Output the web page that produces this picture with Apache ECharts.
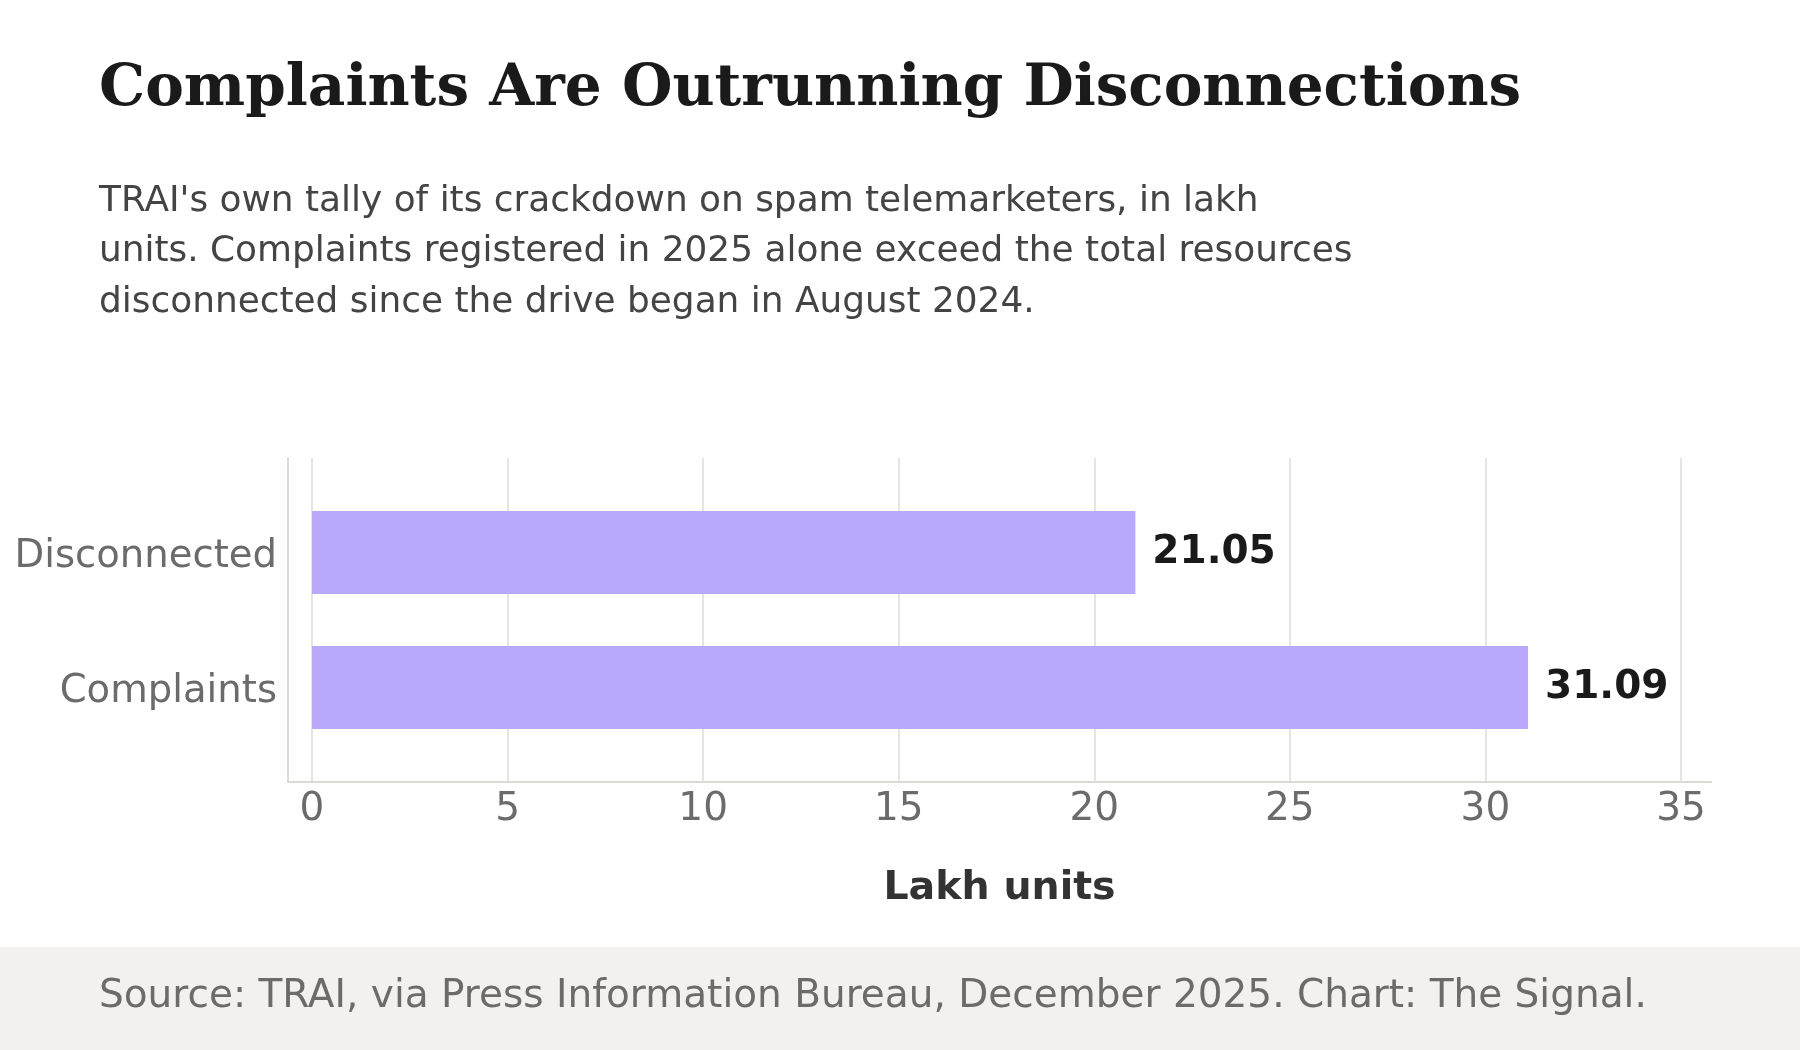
<!DOCTYPE html>
<html>
<head>
<meta charset="utf-8">
<script src="https://cdn.jsdelivr.net/npm/echarts@6/dist/echarts.min.js"></script>
<style>
html,body{margin:0;padding:0;background:#fff;}
#chart{width:1800px;height:1050px;}
</style>
</head>
<body>
<div id="chart"></div>
<script>
const categories = ['Disconnected', 'Complaints'];
const values = [21.05, 31.09];
const xTicks = [0, 5, 10, 15, 20, 25, 30, 35];
const titleText = 'Complaints Are Outrunning Disconnections';
const subtitleText = "TRAI's own tally of its crackdown on spam telemarketers, in lakh\nunits. Complaints registered in 2025 alone exceed the total resources\ndisconnected since the drive began in August 2024.";
const sourceText = 'Source: TRAI, via Press Information Bureau, December 2025. Chart: The Signal.';
const axisTitle = 'Lakh units';

const chart = echarts.init(document.getElementById('chart'), null, {renderer: 'canvas'});
const SANS = 'DejaVu Sans';
const xMin = xTicks[0], xMax = xTicks[xTicks.length - 1], xStep = xTicks[1] - xTicks[0];

chart.setOption({
  backgroundColor: '#ffffff',
  animation: false,
  title: [
    {
      text: titleText, left: 99, top: 61, padding: 0,
      textStyle: {fontFamily: 'DejaVu Serif', fontWeight: 'bold', fontSize: 58, lineHeight: 58, color: '#1a1a1a'}
    },
    {
      text: subtitleText, left: 99, top: 176, padding: 0,
      textStyle: {fontFamily: SANS, fontWeight: 'normal', fontSize: 35.9, lineHeight: 50.5, color: '#444444'}
    }
  ],
  graphic: [
    {type: 'rect', z: -10, shape: {x: 0, y: 947, width: 1800, height: 103}, style: {fill: '#f2f1ef'}},
    {type: 'text', z: 10, x: 99, y: 997, style: {text: sourceText, font: '39px "DejaVu Sans"', fill: '#6b6b6b', textVerticalAlign: 'middle', verticalAlign: 'middle'}}
  ],
  grid: [
    {left: 312, right: 119, top: 458, bottom: 268},
    {left: 312, right: 119, top: 485, bottom: 295},
    {left: 288, right: 89, top: 458, bottom: 268}
  ],
  xAxis: [
    {
      gridIndex: 0, type: 'value', min: xMin, max: xMax, interval: xStep,
      axisLine: {show: false}, axisTick: {show: false},
      axisLabel: {show: true, margin: 8, fontFamily: SANS, fontSize: 39, lineHeight: 39, color: '#6b6b6b'},
      splitLine: {show: true, lineStyle: {color: '#e5e5e2', width: 2}}
    },
    {
      gridIndex: 1, type: 'value', min: xMin, max: xMax, show: false
    },
    {
      gridIndex: 2, type: 'value', min: 0, max: 1,
      axisLine: {show: true, onZero: false, lineStyle: {color: '#dadad6', width: 2}},
      axisTick: {show: false}, axisLabel: {show: false}, splitLine: {show: false},
      name: axisTitle, nameLocation: 'middle', nameGap: 87,
      nameTextStyle: {fontFamily: SANS, fontWeight: 'bold', fontSize: 39.5, lineHeight: 39, color: '#333333'}
    }
  ],
  yAxis: [
    {gridIndex: 0, type: 'value', min: 0, max: 1, show: false},
    {
      gridIndex: 1, type: 'category', data: categories, inverse: true,
      axisLine: {show: false}, axisTick: {show: false}, splitLine: {show: false},
      axisLabel: {margin: 35, verticalAlign: 'top', lineHeight: 9, fontFamily: SANS, fontSize: 38.6, color: '#6b6b6b'}
    },
    {
      gridIndex: 2, type: 'value', min: 0, max: 1,
      axisLine: {show: true, onZero: false, lineStyle: {color: '#dadad6', width: 2}},
      axisTick: {show: false}, axisLabel: {show: false}, splitLine: {show: false}
    }
  ],
  series: [
    {
      type: 'bar', xAxisIndex: 1, yAxisIndex: 1,
      data: values, barWidth: 83,
      itemStyle: {color: '#b8a9fd'},
      label: {
        show: true, position: 'right', distance: 17,
        fontFamily: SANS, fontWeight: 'bold', fontSize: 39, color: '#1a1a1a',
        offset: [0, 0],
        formatter: p => p.value.toFixed(2)
      }
    }
  ]
});
</script>
</body>
</html>
